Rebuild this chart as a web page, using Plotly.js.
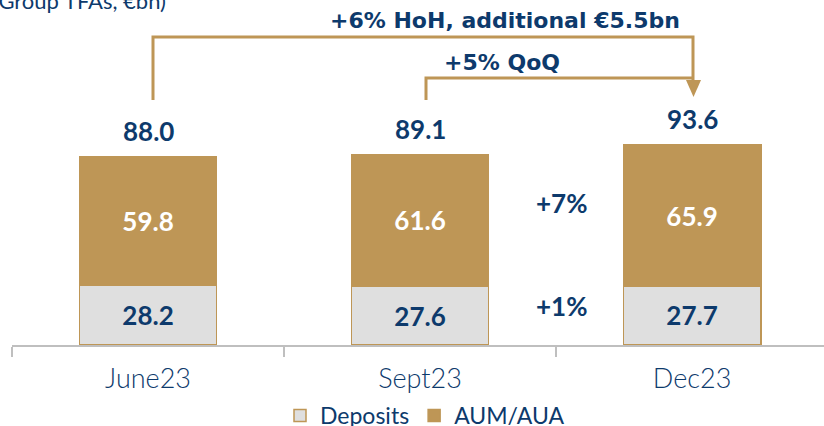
<!DOCTYPE html>
<html>
<head>
<meta charset="utf-8">
<script src="https://cdn.plot.ly/plotly-3.0.1.min.js"></script>
<style>html,body{margin:0;padding:0;background:#fff;}#chart{width:824px;height:426px;}</style>
</head>
<body>
<div id="chart"></div>
<script>
const categories = ["June23", "Sept23", "Dec23"];
const deposits = [28.2, 27.6, 27.7];
const aum = [59.8, 61.6, 65.9];
const totals = [88.0, 89.1, 93.6];
const seriesNames = ["Deposits", "AUM/AUA"];
const growthLabels = ["+7%", "+1%"];
const unitLabel = "(Group TFAs, €bn)";
const hohLabel = "+6% HoH, additional €5.5bn";
const qoqLabel = "+5% QoQ";

const NAVY = "#0d3a6c";
const GOLD = "#be9656";
const GREY = "#dfdfdf";
const FONT = "Lato, 'Open Sans', sans-serif";
const WIDE = "'DejaVu Sans', sans-serif";

function px(x){ return (x-12)/812; }
function py(y){ return (345-y)/345; }

const traces = [
  {
    type: "bar", name: seriesNames[0], x: categories, y: deposits,
    marker: {color: GREY, line: {color: GOLD, width: 1.5}},
    width: 0.505,
    text: deposits.map(v => v.toFixed(1)), textposition: "inside", insidetextanchor: "middle",
    textangle: 0, constraintext: "none",
    textfont: {family: FONT, size: 26, color: NAVY, weight: 700},
    hoverinfo: "skip"
  },
  {
    type: "bar", name: seriesNames[1], x: categories, y: aum,
    marker: {color: GOLD, line: {color: GOLD, width: 1.5}},
    width: 0.505,
    text: aum.map(v => v.toFixed(1)), textposition: "inside", insidetextanchor: "middle",
    textangle: 0, constraintext: "none",
    textfont: {family: FONT, size: 26, color: "#ffffff", weight: 700},
    hoverinfo: "skip"
  }
];

const annotations = [];
categories.forEach((c, i) => {
  annotations.push({
    x: c, y: totals[i], xref: "x", yref: "y", text: "<b>" + totals[i].toFixed(1) + "</b>",
    showarrow: false, xanchor: "center", yanchor: "middle", yshift: 26,
    font: {family: FONT, size: 26, color: NAVY}
  });
});
function note(x, y, text, font) {
  return {xref: "paper", yref: "paper", x: px(x), y: py(y), xanchor: "center", yanchor: "middle",
    text: text, showarrow: false, font: font};
}
annotations.push(note(561, 203, "<b>" + growthLabels[0] + "</b>", {family: FONT, size: 26, color: NAVY}));
annotations.push(note(561, 306, "<b>" + growthLabels[1] + "</b>", {family: FONT, size: 26, color: NAVY}));
annotations.push(note(505, 20, "<b>" + hohLabel + "</b>", {family: WIDE, size: 22, color: NAVY}));
annotations.push(note(502, 62, "<b>" + qoqLabel + "</b>", {family: WIDE, size: 22, color: NAVY}));
annotations.push({xref: "paper", yref: "paper", x: px(168), y: py(16), xanchor: "right", yanchor: "bottom", text: unitLabel,
  showarrow: false, font: {family: FONT, size: 22, color: NAVY}});

// connector brackets
const shapes = [
  {type: "path", xref: "paper", yref: "paper",
   path: `M ${px(153)} ${py(100)} L ${px(153)} ${py(37)} L ${px(693)} ${py(37)} L ${px(693)} ${py(82)}`,
   line: {color: GOLD, width: 3}},
  {type: "path", xref: "paper", yref: "paper",
   path: `M ${px(426)} ${py(100)} L ${px(426)} ${py(78)} L ${px(693)} ${py(78)}`,
   line: {color: GOLD, width: 3}},
  {type: "path", xref: "paper", yref: "paper",
   path: `M ${px(686)} ${py(80)} L ${px(701)} ${py(80)} L ${px(693.5)} ${py(97)} Z`,
   fillcolor: GOLD, line: {color: GOLD, width: 0}}
];

const layout = {
  width: 824, height: 426,
  margin: {l: 12, r: 0, t: 0, b: 81, autoexpand: false},
  barmode: "stack",
  paper_bgcolor: "#ffffff", plot_bgcolor: "#ffffff",
  showlegend: true,
  legend: {orientation: "h", x: px(280), xanchor: "left", y: py(394), yanchor: "top",
    bgcolor: "rgba(0,0,0,0)",
    font: {family: FONT, size: 23, color: NAVY}, itemwidth: 30, traceorder: "normal", itemclick: false},
  xaxis: {type: "category", range: [-0.5, 2.485], showline: true, linecolor: "#bfbfbf", linewidth: 2,
    ticks: "outside", tickson: "boundaries", ticklen: 10, tickcolor: "#bfbfbf", tickwidth: 2,
    tickfont: {family: FONT, size: 27, color: NAVY, weight: 300}, ticklabelstandoff: 9, showgrid: false, zeroline: false, fixedrange: true},
  yaxis: {range: [0, 161.6], visible: false, showgrid: false, zeroline: false, fixedrange: true},
  annotations: annotations,
  shapes: shapes,
  font: {family: FONT, color: NAVY}
};

Plotly.newPlot("chart", traces, layout, {displayModeBar: false, staticPlot: true});
</script>
</body>
</html>
